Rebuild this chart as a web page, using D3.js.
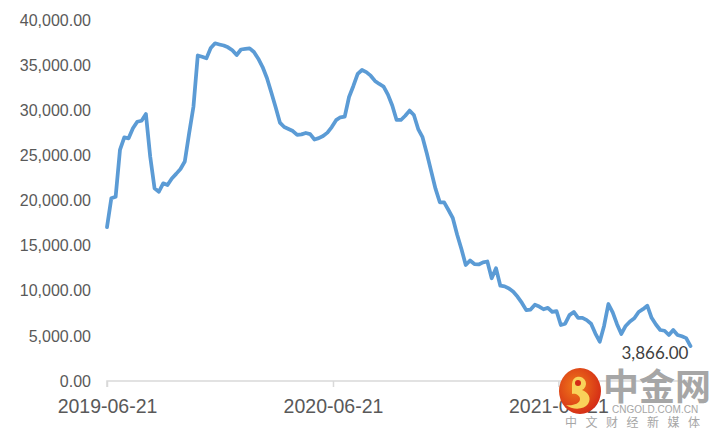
<!DOCTYPE html>
<html>
<head>
<meta charset="utf-8">
<script src="https://cdn.jsdelivr.net/npm/d3@7"></script>
<style>
  body { margin: 0; background: #fff; }
  svg { display: block; font-family: Lato, "Liberation Sans", sans-serif; }
  .y.axis text { fill: #595959; font-size: 16px; }
  .x.axis text { fill: #595959; font-size: 19.5px; }
  .axis .domain { stroke: #d9d9d9; stroke-width: 1.5; }
  .axis line { stroke: #d9d9d9; stroke-width: 1.5; }
</style>
</head>
<body>
<svg class="chart"></svg>
<script>
var width = 715, height = 436;

// weekly dates
var dates = [
  "2019-06-21","2019-06-28","2019-07-05","2019-07-12","2019-07-19","2019-07-26","2019-08-02","2019-08-09",
  "2019-08-16","2019-08-23","2019-08-30","2019-09-06","2019-09-13","2019-09-20","2019-09-27","2019-10-04",
  "2019-10-11","2019-10-18","2019-10-25","2019-11-01","2019-11-08","2019-11-15","2019-11-22","2019-11-29",
  "2019-12-06","2019-12-13","2019-12-20","2019-12-27",
  "2020-01-03","2020-01-10","2020-01-17","2020-01-24","2020-01-31","2020-02-07","2020-02-14","2020-02-21",
  "2020-02-28","2020-03-06","2020-03-13","2020-03-20","2020-03-27","2020-04-03","2020-04-10","2020-04-17",
  "2020-04-24","2020-05-01","2020-05-08","2020-05-15","2020-05-22","2020-05-29","2020-06-05","2020-06-12",
  "2020-06-19","2020-06-26","2020-07-03","2020-07-10","2020-07-17","2020-07-24","2020-07-31","2020-08-07",
  "2020-08-14","2020-08-21","2020-08-28","2020-09-04","2020-09-11","2020-09-18","2020-09-25","2020-10-02",
  "2020-10-09","2020-10-16","2020-10-23","2020-10-30","2020-11-06","2020-11-13","2020-11-20","2020-11-27",
  "2020-12-04","2020-12-11","2020-12-18","2020-12-25",
  "2021-01-01","2021-01-08","2021-01-15","2021-01-22","2021-01-29","2021-02-05","2021-02-12","2021-02-19",
  "2021-02-26","2021-03-05","2021-03-12","2021-03-19","2021-03-26","2021-04-02","2021-04-09","2021-04-16",
  "2021-04-23","2021-04-30","2021-05-07","2021-05-14","2021-05-21","2021-05-28","2021-06-04","2021-06-11",
  "2021-06-18","2021-06-25","2021-07-02","2021-07-09","2021-07-16","2021-07-23","2021-07-30","2021-08-06",
  "2021-08-13","2021-08-20","2021-08-27","2021-09-03","2021-09-10","2021-09-17","2021-09-24","2021-10-01",
  "2021-10-08","2021-10-15","2021-10-22","2021-10-29","2021-11-05","2021-11-12","2021-11-19","2021-11-26",
  "2021-12-03","2021-12-10","2021-12-17","2021-12-24","2021-12-31",
  "2022-01-07","2022-01-14","2022-01-21"
];

var values = [
  17050, 20240, 20420, 25600, 27000, 26890, 28000, 28730, 28840, 29580,
  24850, 21350, 20970, 21900, 21720, 22440, 22950, 23490, 24320, 27440,
  30390, 36070, 35920, 35750, 36900, 37420, 37290, 37170, 36970, 36640,
  36120, 36730, 36790, 36860, 36450, 35710, 34790, 33570, 31990, 30360,
  28630, 28140, 27920, 27700, 27260, 27330, 27480, 27350, 26760, 26910,
  27150, 27520, 28140, 28900, 29220, 29290, 31470, 32690, 34020, 34460,
  34230, 33830, 33250, 32910, 32630, 31730, 30520, 28920, 28920, 29390,
  29960, 29470, 27920, 27010, 25210, 23250, 21310, 19800, 19800, 18950,
  18060, 16230, 14630, 12850, 13350, 12960, 12910, 13140, 13240, 11380,
  12490, 10560, 10480, 10250, 9880, 9330, 8650, 7850, 7920, 8450,
  8250, 7950, 8100, 7650, 7750, 6200, 6350, 7300, 7650, 7000,
  7000, 6750, 6350, 5250, 4350, 6100, 8530, 7600, 6300, 5210,
  6100, 6600, 6950, 7650, 7960, 8340, 7000, 6260, 5650, 5570,
  5100, 5650, 5100, 4950, 4750, 3866
];

var tickDates = ["2019-06-21", "2020-06-21", "2021-06-21"];
var yTicks = [0, 5000, 10000, 15000, 20000, 25000, 30000, 35000, 40000];

var parseDate = d3.timeParse("%Y-%m-%d");
var data = dates.map(function(d, i) { return {date: parseDate(d), value: values[i]}; });

var xScale = d3.scaleTime()
    .domain([data[0].date, data[data.length - 1].date])
    .range([107, 690.5]);

var yScale = d3.scaleLinear()
    .domain([0, 40000])
    .range([381, 20]);

var chart = d3.select(".chart")
    .attr("width", width)
    .attr("height", height);

// y axis labels only (no line)
var yAxis = d3.axisLeft(yScale)
    .tickValues(yTicks)
    .tickFormat(d3.format(",.2f"))
    .tickSize(0)
    .tickPadding(0);

chart.append("g")
    .attr("class", "y axis")
    .attr("transform", "translate(91,0)")
    .call(yAxis)
    .call(function(g) { g.select(".domain").remove(); });

var xAxis = d3.axisBottom(xScale)
    .tickValues(tickDates.map(parseDate))
    .tickFormat(d3.timeFormat("%Y-%m-%d"))
    .tickSizeInner(6)
    .tickSizeOuter(0)
    .tickPadding(12);

chart.append("g")
    .attr("class", "x axis")
    .attr("transform", "translate(0,381)")
    .call(xAxis)
    .call(function(g) { g.select(".domain").attr("d", "M107,6V0H693"); });

var line = d3.line()
    .x(function(d) { return xScale(d.date); })
    .y(function(d) { return yScale(d.value); });

chart.append("path")
    .datum(data)
    .attr("fill", "none")
    .attr("stroke", "#5b9bd5")
    .attr("stroke-width", 3.75)
    .attr("stroke-linejoin", "round")
    .attr("stroke-linecap", "round")
    .attr("d", line);

var last = data[data.length - 1];
chart.append("text")
    .attr("x", xScale(last.date) - 2)
    .attr("y", yScale(last.value) + 13)
    .attr("text-anchor", "end")
    .style("font-size", "17px")
    .style("fill", "#404040")
    .text(d3.format(",.2f")(last.value));

// watermark
var wm = chart.append("g").attr("class", "watermark");
var grad = chart.append("defs").append("radialGradient")
    .attr("id", "logoGrad").attr("cx", "40%").attr("cy", "40%").attr("r", "65%");
grad.append("stop").attr("offset", "0%").attr("stop-color", "#f07a1a");
grad.append("stop").attr("offset", "100%").attr("stop-color", "#d42a16");

wm.append("ellipse")
    .attr("cx", 580).attr("cy", 391).attr("rx", 21).attr("ry", 23)
    .attr("fill", "url(#logoGrad)");
wm.append("path")
    .attr("d", "M572,384 a7,7 0 1,1 10,6 c6,2 10,8 6,14 c-4,6 -16,6 -22,1 c6,1 14,-1 14,-6 c0,-4 -5,-6 -8,-5 z")
    .attr("fill", "#f9d25a");
wm.append("circle").attr("cx", 578).attr("cy", 383).attr("r", 3).attr("fill", "#d42a16");

wm.append("text")
    .attr("x", 603).attr("y", 400)
    .style("font-family", "'Noto Sans CJK SC', sans-serif")
    .style("font-size", "36px").style("font-weight", "bold")
    .style("fill", "#a6a6a6")
    .text("中金网");
wm.append("text")
    .attr("x", 612).attr("y", 413)
    .style("font-family", "'Liberation Sans', sans-serif")
    .style("font-size", "10px")
    .style("fill", "#a6a6a6")
    .text("CNGOLD.COM.CN");
wm.append("text")
    .attr("x", 565).attr("y", 427)
    .style("font-family", "'Noto Sans CJK SC', sans-serif")
    .style("font-size", "12px")
    .style("letter-spacing", "8.5px")
    .style("fill", "#a6a6a6")
    .text("中文财经新媒体");
</script>
</body>
</html>
